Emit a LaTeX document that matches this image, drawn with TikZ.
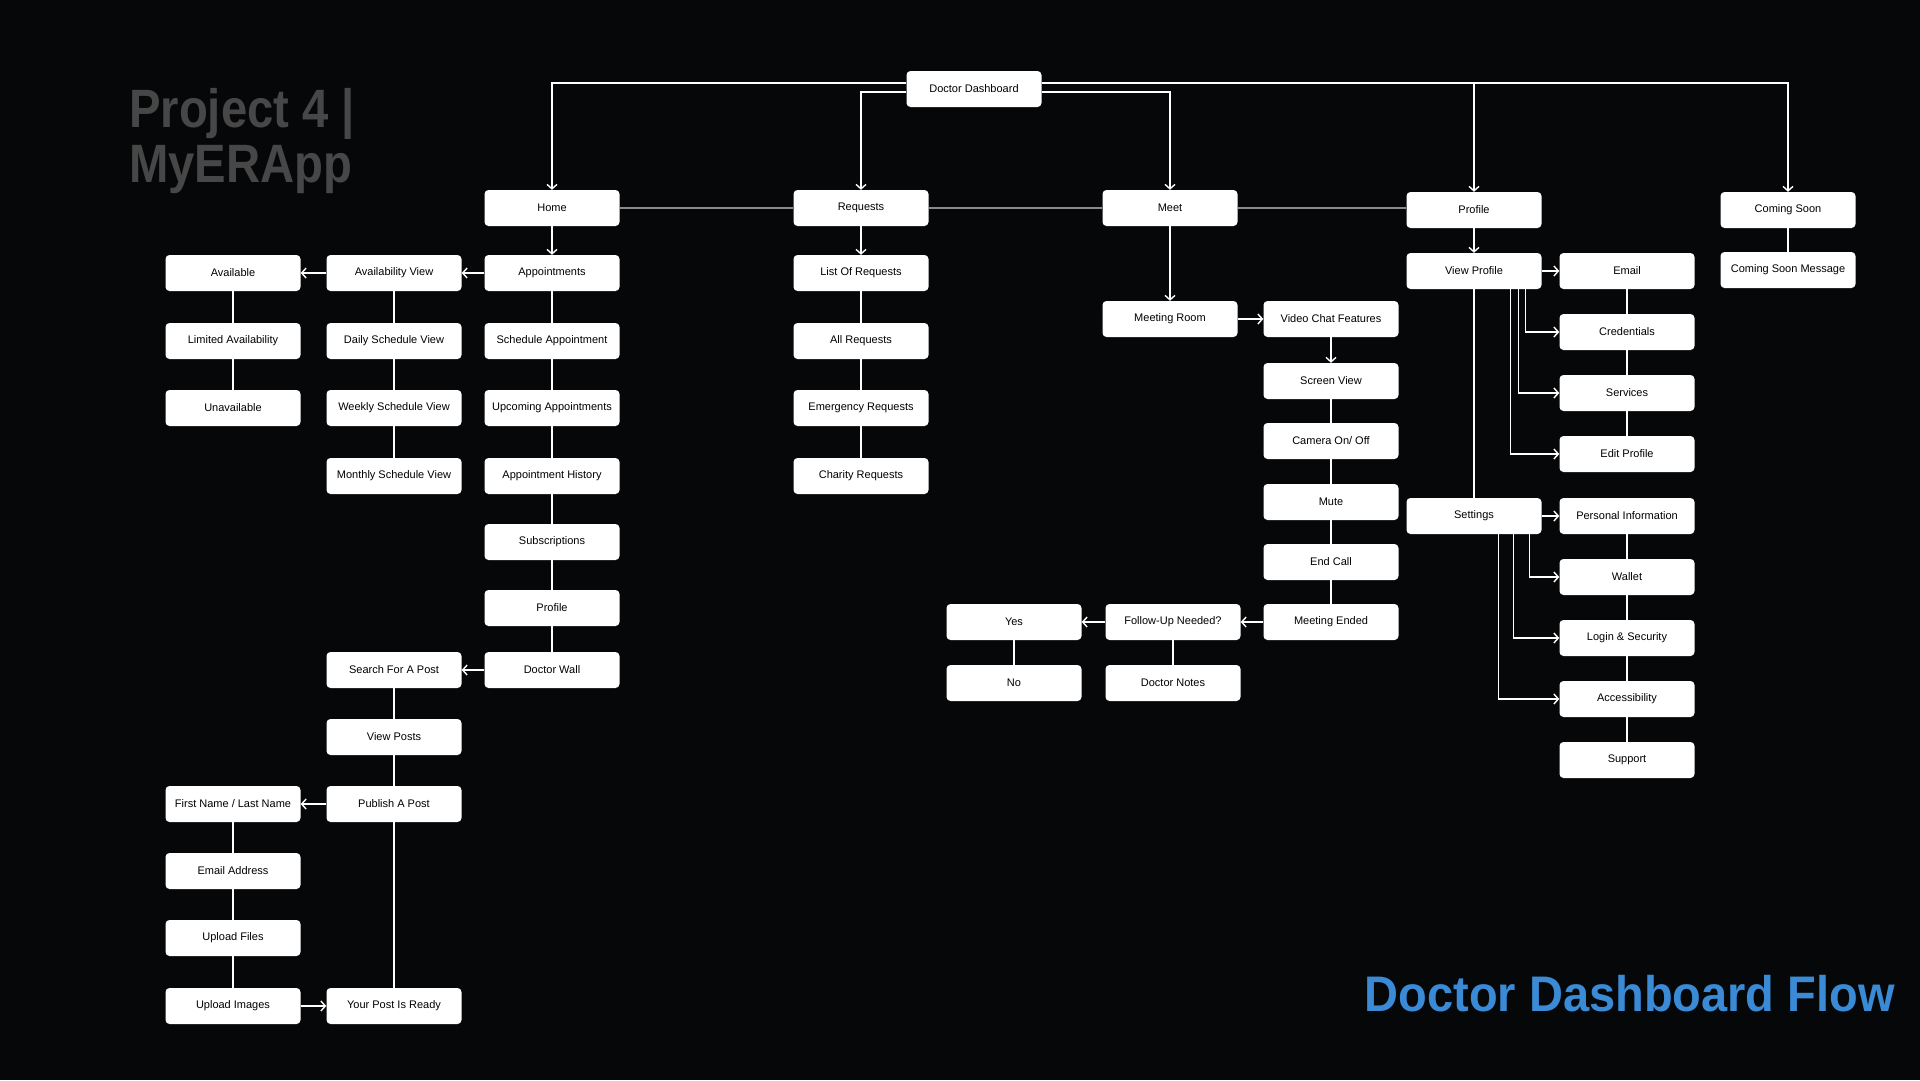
\documentclass[tikz,border=0pt]{standalone}
\usepackage{fontspec}
\setmainfont{Liberation Sans}
\usetikzlibrary{positioning,arrows.meta,calc}
\definecolor{bgblack}{HTML}{050709}
\definecolor{titlegray}{HTML}{474747}
\definecolor{flowblue}{HTML}{3A8AD6}
\definecolor{linkgray}{HTML}{8A8A8A}

\begin{document}
\begin{tikzpicture}[x=1pt, y=-1pt, font=\fontsize{11}{13}\selectfont,
  >={Straight Barb[length=4.5pt,width=10pt]},
  box/.style={fill=white, rounded corners=4pt, minimum width=135pt,
    minimum height=36pt, inner sep=0pt, text=black},
  link/.style={draw=white, line width=1.4pt},
  toplink/.style={draw=linkgray, line width=1.4pt},
  headline/.style={text=titlegray, inner sep=0pt,
    font=\fontsize{54}{60}\selectfont\bfseries}]
  \fill[bgblack] (0,0) rectangle (1920,1080);
  \useasboundingbox (0,0) rectangle (1920,1080);

  \node[headline, anchor=base west] (proj) at (129,127) {\scalebox{0.875}[1]{Project 4 |}};
  \node[headline, anchor=base west] (app) at (129,182) {\scalebox{0.875}[1]{MyERApp}};
  \node[anchor=base east, inner sep=0pt, text=flowblue, font=\fontsize{50}{56}\selectfont\bfseries] (flow) at (1895,1011) {\scalebox{0.94}[1]{Doctor Dashboard Flow}};

  \node[box] (dd) at (974,89) {Doctor Dashboard};
  \node[box] (home) at (552,208) {Home};
  \node[box] (req) at (861,208) {Requests};
  \node[box] (meet) at (1170,208) {Meet};
  \node[box] (prof) at (1474,210) {Profile};
  \node[box] (csoon) at (1788,210) {Coming Soon};
  \node[box] (csmsg) at (1788,270) {Coming Soon Message};

  \node[box] (avail) at (233,273) {Available};
  \node[box] (limited) at (233,341) {Limited Availability};
  \node[box] (unavail) at (233,408) {Unavailable};
  \node[box] (avview) at (394,273) {Availability View};
  \node[box] (daily) at (394,341) {Daily Schedule View};
  \node[box] (weekly) at (394,408) {Weekly Schedule View};
  \node[box] (monthly) at (394,476) {Monthly Schedule View};
  \node[box] (appt) at (552,273) {Appointments};
  \node[box] (sched) at (552,341) {Schedule Appointment};
  \node[box] (upcoming) at (552,408) {Upcoming Appointments};
  \node[box] (history) at (552,476) {Appointment History};
  \node[box] (subs) at (552,542) {Subscriptions};
  \node[box] (hprof) at (552,608) {Profile};
  \node[box] (wall) at (552,670) {Doctor Wall};
  \node[box] (search) at (394,670) {Search For A Post};
  \node[box] (vposts) at (394,737) {View Posts};
  \node[box] (publish) at (394,804) {Publish A Post};
  \node[box] (ready) at (394,1006) {Your Post Is Ready};
  \node[box] (fname) at (233,804) {First Name / Last Name};
  \node[box] (emailaddr) at (233,871) {Email Address};
  \node[box] (files) at (233,938) {Upload Files};
  \node[box] (images) at (233,1006) {Upload Images};

  \node[box] (reqlist) at (861,273) {List Of Requests};
  \node[box] (allreq) at (861,341) {All Requests};
  \node[box] (emerg) at (861,408) {Emergency Requests};
  \node[box] (charity) at (861,476) {Charity Requests};

  \node[box] (mroom) at (1170,319) {Meeting Room};
  \node[box] (vchat) at (1331,319) {Video Chat Features};
  \node[box] (screen) at (1331,381) {Screen View};
  \node[box] (camera) at (1331,441) {Camera On/ Off};
  \node[box] (mute) at (1331,502) {Mute};
  \node[box] (endcall) at (1331,562) {End Call};
  \node[box] (mended) at (1331,622) {Meeting Ended};
  \node[box] (follow) at (1173,622) {Follow-Up Needed?};
  \node[box] (notes) at (1173,683) {Doctor Notes};
  \node[box] (yes) at (1014,622) {Yes};
  \node[box] (no) at (1014,683) {No};

  \node[box] (vprof) at (1474,271) {View Profile};
  \node[box] (settings) at (1474,516) {Settings};
  \node[box] (email) at (1627,271) {Email};
  \node[box] (cred) at (1627,332) {Credentials};
  \node[box] (serv) at (1627,393) {Services};
  \node[box] (edit) at (1627,454) {Edit Profile};
  \node[box] (pinfo) at (1627,516) {Personal Information};
  \node[box] (wallet) at (1627,577) {Wallet};
  \node[box] (login) at (1627,638) {Login \& Security};
  \node[box] (access) at (1627,699) {Accessibility};
  \node[box] (support) at (1627,760) {Support};

  \draw[link,->] ([yshift=6pt]dd.west) -| (home);
  \draw[link,->] ([yshift=-3pt]dd.west) -| (req);
  \draw[link,->] ([yshift=-3pt]dd.east) -| (meet);
  \draw[link,->] ([yshift=6pt]dd.east) -| (csoon);
  \draw[link,->] ([yshift=6pt]dd.east) -| (prof);
  \draw[toplink] (home) -- (req);
  \draw[toplink] (req) -- (meet);
  \draw[toplink] (meet.east) -- (meet.east -| prof.west);

  \draw[link,->] (home) -- (appt);
  \draw[link,->] (appt) -- (avview);
  \draw[link,->] (avview) -- (avail);
  \draw[link] (avail) -- (limited) -- (unavail);
  \draw[link] (avview) -- (daily) -- (weekly) -- (monthly);
  \draw[link] (appt) -- (sched) -- (upcoming) -- (history) -- (subs) -- (hprof) -- (wall);
  \draw[link,->] (wall) -- (search);
  \draw[link] (search) -- (vposts) -- (publish) -- (ready);
  \draw[link,->] (publish) -- (fname);
  \draw[link] (fname) -- (emailaddr) -- (files) -- (images);
  \draw[link,->] (images) -- (ready);

  \draw[link,->] (req) -- (reqlist);
  \draw[link] (reqlist) -- (allreq) -- (emerg) -- (charity);

  \draw[link,->] (meet) -- (mroom);
  \draw[link,->] (mroom) -- (vchat);
  \draw[link,->] (vchat) -- (screen);
  \draw[link] (screen) -- (camera) -- (mute) -- (endcall) -- (mended);
  \draw[link,->] (mended) -- (follow);
  \draw[link,->] (follow) -- (yes);
  \draw[link] (yes) -- (no);
  \draw[link] (follow) -- (notes);

  \draw[link,->] (prof) -- (vprof);
  \draw[link,->] (vprof) -- (email);
  \draw[link] (email) -- (cred) -- (serv) -- (edit);
  \draw[link,->] ([xshift=-16pt]vprof.south east) |- (cred);
  \draw[link,->] ([xshift=-23pt]vprof.south east) |- (serv);
  \draw[link,->] ([xshift=-31pt]vprof.south east) |- (edit);
  \draw[link] (vprof) -- (settings);
  \draw[link,->] (settings) -- (pinfo);
  \draw[link] (pinfo) -- (wallet) -- (login) -- (access) -- (support);
  \draw[link,->] ([xshift=-12pt]settings.south east) |- (wallet);
  \draw[link,->] ([xshift=-28pt]settings.south east) |- (login);
  \draw[link,->] ([xshift=-43pt]settings.south east) |- (access);
  \draw[link] (csoon) -- (csmsg);
\end{tikzpicture}
\end{document}
